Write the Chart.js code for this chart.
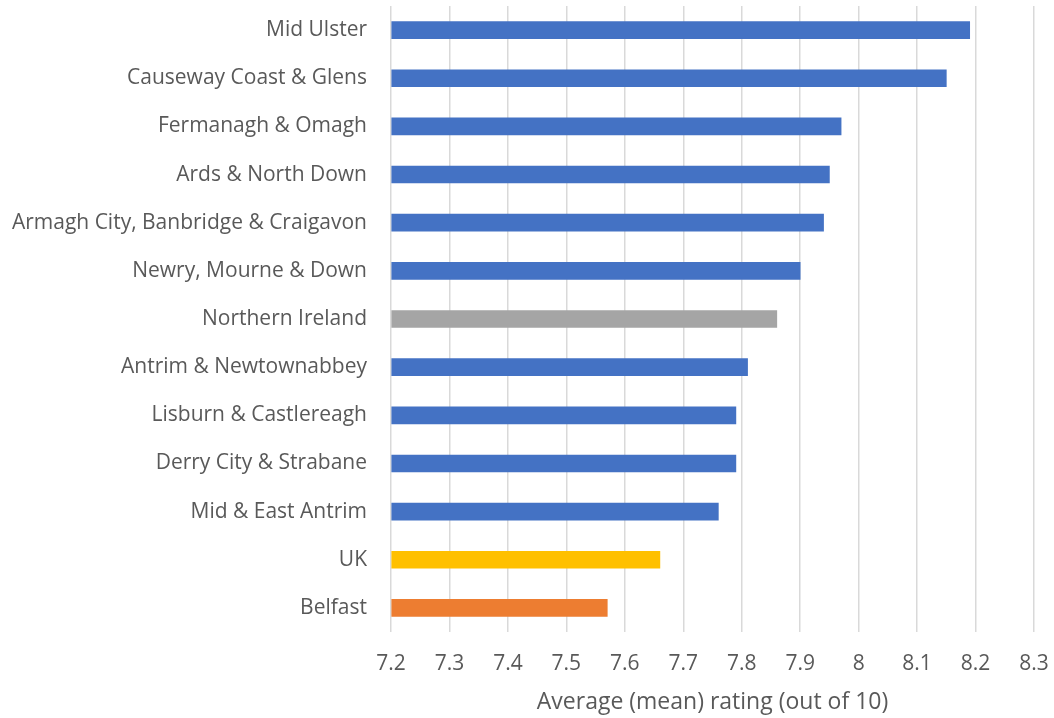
<!DOCTYPE html>
<html>
<head>
<meta charset="utf-8">
<script src="https://cdn.jsdelivr.net/npm/chart.js@4"></script>
<style>
  html, body { margin: 0; padding: 0; background: #ffffff; }
  #wrap { width: 1054px; height: 718px; position: relative; }
</style>
</head>
<body>
<div id="wrap"><canvas id="chart"></canvas></div>
<script>
// Council areas, ordered from highest to lowest average rating
const areas = [
  "Mid Ulster",
  "Causeway Coast & Glens",
  "Fermanagh & Omagh",
  "Ards & North Down",
  "Armagh City, Banbridge & Craigavon",
  "Newry, Mourne & Down",
  "Northern Ireland",
  "Antrim & Newtownabbey",
  "Lisburn & Castlereagh",
  "Derry City & Strabane",
  "Mid & East Antrim",
  "UK",
  "Belfast"
];

// Average (mean) rating out of 10
const ratings = [8.19, 8.15, 7.97, 7.95, 7.94, 7.90, 7.86, 7.81, 7.79, 7.79, 7.76, 7.66, 7.57];

// Axis range and step
const axisMin = 7.2;
const axisMax = 8.3;
const axisStep = 0.1;

const axisTitle = "Average (mean) rating (out of 10)";

// Bar colours: councils blue, NI grey, UK yellow, Belfast orange
const barColours = areas.map(a =>
  a === "Northern Ireland" ? "#A5A5A5" :
  a === "UK" ? "#FFC000" :
  a === "Belfast" ? "#ED7D31" : "#4472C4"
);

const font = "'Open Sans', 'Liberation Sans', sans-serif";
const textColour = "#595959";

// Keep the plot area fixed: drop the label overhang padding scales add
function noOverhang(s) {
  s.paddingTop = 0;
  s.paddingBottom = 0;
  s.paddingLeft = 0;
  s.paddingRight = 0;
}

new Chart(document.getElementById("chart"), {
  type: "bar",
  data: {
    labels: areas,
    datasets: [{
      data: ratings,
      backgroundColor: barColours,
      borderWidth: 0,
      barThickness: 17,
      base: axisMin
    }]
  },
  options: {
    indexAxis: "y",
    responsive: true,
    maintainAspectRatio: false,
    animation: false,
    layout: { padding: { top: 6, right: 20, left: 0, bottom: 0 } },
    plugins: {
      legend: { display: false },
      tooltip: { enabled: false }
    },
    scales: {
      x: {
        min: axisMin,
        max: axisMax,
        border: { display: false },
        grid: { color: "#d9d9d9", lineWidth: 1.5, drawTicks: false },
        ticks: {
          stepSize: axisStep,
          padding: 19,
          color: textColour,
          font: { family: font, size: 21 },
          callback: v => Number(v.toFixed(1)).toString()
        },
        title: {
          display: true,
          text: axisTitle,
          color: textColour,
          font: { family: font, size: 23 },
          padding: { top: 4, bottom: 2 }
        },
        afterFit: s => { s.height = 86; noOverhang(s); }
      },
      y: {
        border: { display: false },
        grid: { display: false, drawTicks: false },
        ticks: {
          padding: 24,
          color: textColour,
          font: { family: font, size: 21 }
        },
        afterFit: s => { s.width = 391; noOverhang(s); }
      }
    }
  }
});
</script>
</body>
</html>
